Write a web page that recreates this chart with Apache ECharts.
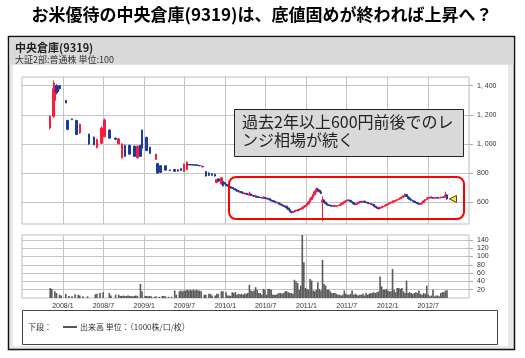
<!DOCTYPE html>
<html><head><meta charset="utf-8">
<script src="https://cdn.jsdelivr.net/npm/echarts@6/dist/echarts.min.js"></script>
<style>html,body{margin:0;padding:0;background:#fff}#c{width:525px;height:358px}</style>
</head><body><div id="c"></div>
<script>
// ---- DATA ----
const titleText = 'お米優待の中央倉庫(9319)は、底値固めが終われば上昇へ？';
const headerTitle = '中央倉庫(9319)';
const headerSub = '大証2部:普通株 単位:100';
const noteText = '過去2年以上600円前後でのレ\nンジ相場が続く';
const legendPrefix = '下段：';
const legendText = '出来高 単位：（1000株/口/枚）';

const dateTicks = ['2008-01-01','2008-07-01','2009-01-01','2009-07-01','2010-01-01','2010-07-01','2011-01-01','2011-07-01','2012-01-01','2012-07-01'];
const priceTicks = [600, 800, 1000, 1200, 1400];
const volumeTicks = [20, 40, 60, 80, 100, 120, 140];

// [date, open, close, low, high]
const candles2007_2009 = [
['2007-11-05',1110,1190,1100,1196],['2007-11-19',1190,1380,1180,1436],['2007-11-26',1300,1400,1270,1420],
['2007-12-03',1400,1355,1340,1410],['2007-12-10',1390,1360,1350,1400],['2007-12-17',1400,1380,1375,1402],
['2008-01-14',1300,1282,1280,1302],['2008-01-21',1162,1100,1095,1165],['2008-02-12',1172,1166,1164,1174],
['2008-03-03',1162,1065,1060,1165],['2008-03-17',1075,1135,1070,1140],['2008-04-28',1068,1000,995,1070],
['2008-05-19',1048,995,990,1050],['2008-06-02',975,1030,970,1035],['2008-06-23',1005,1110,1000,1120],
['2008-07-07',1050,1165,1045,1175],['2008-07-28',1095,1040,1035,1100],['2008-08-25',1040,1032,1028,1044],
['2008-09-08',1000,1035,998,1038],['2008-09-22',905,1000,900,1005],['2008-10-06',990,915,910,995],
['2008-10-27',990,930,925,995],['2008-11-17',985,915,910,988],['2008-12-01',905,985,900,990],
['2008-12-15',990,915,910,995],['2008-12-22',1095,970,965,1098],['2009-01-12',1045,955,950,1050],
['2009-01-26',978,935,932,980],['2009-02-23',895,930,890,932],['2009-03-02',865,800,795,868],
['2009-03-16',850,805,800,855],['2009-04-06',850,820,818,852],['2009-04-27',822,818,815,824],
['2009-05-18',825,812,810,826],['2009-06-01',822,815,810,825],['2009-06-15',830,818,815,832],
['2009-06-29',810,860,808,865],['2009-07-13',825,875,820,880],['2009-07-20',858,857,856,859],
['2009-07-27',858,856,855,859],['2009-08-03',857,856,855,858],['2009-08-10',857,855,854,858],
['2009-08-17',856,855,854,857],['2009-08-24',856,854,852,857],['2009-08-31',855,853,852,856],
['2009-09-07',852,850,848,853],['2009-09-21',842,848,840,850],['2009-10-05',810,780,776,812],
['2009-10-19',800,785,780,804],['2009-11-02',795,785,782,798],['2009-11-16',792,780,776,794],
['2009-11-23',735,755,730,758],['2009-11-30',760,745,740,762],['2009-12-14',725,768,720,772],
['2009-12-21',742,712,708,745],['2009-12-28',735,728,722,738]
];
const candles2010 = [
['2010-01-04',725,718,712,732],['2010-01-11',718,712,706,722],['2010-01-18',712,706,700,716],['2010-01-25',706,700,694,710],
['2010-02-01',700,695,690,704],['2010-02-08',692,690,684,698],['2010-02-15',690,684,678,694],['2010-02-22',684,678,672,688],
['2010-03-01',676,672,668,682],['2010-03-08',668,674,664,680],['2010-03-15',672,664,660,676],['2010-03-22',664,661,656,668],
['2010-03-29',658,662,654,668],['2010-04-05',660,655,650,664],['2010-04-12',655,653,648,660],['2010-04-19',648,658,645,672],
['2010-04-26',656,647,642,660],['2010-05-03',647,645,640,650],['2010-05-10',645,641,636,648],['2010-05-17',636,642,632,650],
['2010-05-24',640,636,630,644],['2010-05-31',636,633,628,640],['2010-06-07',633,632,628,636],['2010-06-14',632,630,626,634],
['2010-06-21',626,634,622,640],['2010-06-28',632,627,622,636],['2010-07-05',627,624,620,630],['2010-07-12',620,626,616,632],
['2010-07-19',624,616,612,628],['2010-07-26',616,612,606,620],['2010-08-02',612,607,602,614],['2010-08-09',607,602,598,610],
['2010-08-16',602,597,592,606],['2010-08-23',594,598,590,604],['2010-08-30',596,588,584,600],['2010-09-06',588,583,578,592],
['2010-09-13',583,578,574,586],['2010-09-20',578,572,568,582],['2010-09-27',568,574,564,578],['2010-10-04',572,560,556,576],
['2010-10-11',560,548,544,562],['2010-10-18',548,536,532,550],['2010-10-25',536,528,524,540],['2010-11-01',528,534,526,538],
['2010-11-08',534,540,530,546],['2010-11-15',540,543,536,548],['2010-11-22',546,542,538,550],['2010-11-29',542,550,540,554],
['2010-12-06',550,556,546,560],['2010-12-13',556,563,550,572],['2010-12-20',563,570,558,576],['2010-12-27',570,578,566,582]
];
const candles2011 = [
['2011-01-03',578,588,575,594],['2011-01-10',588,602,584,608],['2011-01-17',602,618,598,626],['2011-01-24',618,632,612,640],
['2011-01-31',632,650,628,656],['2011-02-07',650,672,646,680],['2011-02-14',672,690,666,700],['2011-02-21',690,682,676,698],
['2011-02-28',682,672,666,686],['2011-03-07',672,660,655,676],['2011-03-14',600,615,470,640],['2011-03-21',615,600,596,620],
['2011-03-28',600,590,585,604],['2011-04-04',590,582,578,594],['2011-04-11',582,578,574,586],['2011-04-18',578,575,570,582],
['2011-04-25',575,574,570,578],['2011-05-02',572,575,568,578],['2011-05-09',575,573,570,578],['2011-05-16',573,576,570,580],
['2011-05-23',576,577,572,580],['2011-05-30',577,580,574,584],['2011-06-06',580,588,576,592],['2011-06-13',588,596,584,600],
['2011-06-20',596,604,592,610],['2011-06-27',604,610,600,614],['2011-07-04',610,614,606,618],['2011-07-11',614,612,608,618],
['2011-07-18',612,605,600,616],['2011-07-25',605,598,594,608],['2011-08-01',598,588,584,600],['2011-08-08',588,585,580,592],
['2011-08-15',585,592,582,596],['2011-08-22',592,600,588,604],['2011-08-29',600,604,596,608],['2011-09-05',604,602,598,608],
['2011-09-12',602,606,598,610],['2011-09-19',606,600,596,610],['2011-09-26',600,598,594,604],['2011-10-03',598,594,590,602],
['2011-10-10',594,590,586,598],['2011-10-17',590,584,580,594],['2011-10-24',580,586,576,590],['2011-10-31',584,572,568,588],
['2011-11-07',572,566,562,576],['2011-11-14',566,560,556,570],['2011-11-21',560,555,550,564],['2011-11-28',555,562,552,570],
['2011-12-05',562,566,558,572],['2011-12-12',566,572,562,576],['2011-12-19',572,578,568,582],['2011-12-26',578,584,574,588]
];
const candles2012 = [
['2012-01-02',584,590,580,594],['2012-01-09',590,594,586,598],['2012-01-16',594,598,590,602],['2012-01-23',598,603,592,612],
['2012-01-30',603,608,598,612],['2012-02-06',608,612,604,616],['2012-02-13',612,618,608,622],['2012-02-20',618,624,614,628],
['2012-02-27',624,630,620,634],['2012-03-05',630,636,626,640],['2012-03-12',636,644,632,650],['2012-03-19',644,652,640,660],
['2012-03-26',652,640,636,656],['2012-04-02',640,628,624,644],['2012-04-09',628,620,616,632],['2012-04-16',620,612,608,624],
['2012-04-23',612,606,602,616],['2012-04-30',606,600,596,610],['2012-05-07',600,596,592,604],['2012-05-14',596,590,586,600],
['2012-05-21',590,586,582,594],['2012-05-28',586,590,582,594],['2012-06-04',590,598,586,602],['2012-06-11',598,608,594,612],
['2012-06-18',608,618,604,622],['2012-06-25',618,626,614,632],['2012-07-02',626,632,622,636],['2012-07-09',632,634,628,638],
['2012-07-16',634,630,626,638],['2012-07-23',630,628,624,634],['2012-07-30',628,630,624,634],['2012-08-06',630,632,626,636],
['2012-08-13',632,628,624,636],['2012-08-20',628,630,624,634],['2012-08-27',630,634,626,638],['2012-09-03',634,632,628,638],
['2012-09-10',632,636,628,640],['2012-09-17',636,650,632,672],['2012-09-24',650,622,618,654]
];

// [date, volume (1000 shares)]
const volume2007_2009 = [
['2007-11-05',24],['2007-11-12',22],['2007-11-26',16],['2007-12-03',12],['2007-12-17',8],['2007-12-24',6],
['2008-01-14',10],['2008-01-28',5],['2008-02-11',4],['2008-02-25',9],['2008-03-10',8],['2008-03-17',6],['2008-03-31',4],
['2008-04-21',4],['2008-05-26',9],['2008-06-02',10],['2008-06-16',12],['2008-06-30',14],['2008-07-28',12],['2008-08-04',6],
['2008-08-25',8],['2008-09-08',8],['2008-09-15',5],['2008-09-22',5],['2008-09-29',6],['2008-10-06',5],['2008-10-13',5],
['2008-10-20',6],['2008-10-27',5],['2008-11-03',5],['2008-11-10',4],['2008-11-17',5],['2008-11-24',6],['2008-12-01',5],
['2008-12-15',34],['2008-12-22',16],['2009-01-05',5],['2009-01-12',5],['2009-01-19',4],['2009-01-26',5],['2009-02-02',4],
['2009-02-16',3],['2009-02-23',4],['2009-03-09',3],['2009-03-23',5],['2009-03-30',5],['2009-04-06',4],['2009-04-20',3],
['2009-05-04',3],['2009-05-18',18],['2009-05-25',8],['2009-06-08',16],['2009-06-15',18],['2009-06-22',16],['2009-06-29',18],
['2009-07-06',18],['2009-07-13',20],['2009-07-20',18],['2009-07-27',20],['2009-08-03',18],['2009-08-10',20],['2009-08-17',18],
['2009-08-24',20],['2009-08-31',18],['2009-09-07',18],['2009-09-14',16],['2009-09-28',8],['2009-10-05',8],['2009-10-19',10],
['2009-10-26',10],['2009-11-02',6],['2009-11-16',6],['2009-11-23',10],['2009-11-30',10],['2009-12-14',16],['2009-12-21',16]
];
const volume2010 = [
['2010-01-04',14],['2010-01-11',6],['2010-01-18',6],['2010-01-25',5],['2010-02-01',14],['2010-02-08',12],['2010-02-15',14],
['2010-02-22',8],['2010-03-01',10],['2010-03-08',9],['2010-03-15',10],['2010-03-22',8],['2010-03-29',11],['2010-04-05',10],
['2010-04-12',12],['2010-04-19',32],['2010-04-26',18],['2010-05-03',16],['2010-05-10',18],['2010-05-17',26],['2010-05-24',20],
['2010-05-31',12],['2010-06-07',12],['2010-06-14',8],['2010-06-21',22],['2010-06-28',20],['2010-07-05',8],['2010-07-12',22],
['2010-07-19',22],['2010-07-26',20],['2010-08-02',8],['2010-08-09',8],['2010-08-16',7],['2010-08-23',10],['2010-08-30',12],
['2010-09-06',12],['2010-09-13',10],['2010-09-20',12],['2010-09-27',16],['2010-10-04',16],['2010-10-11',14],['2010-10-18',12],
['2010-10-25',12],['2010-11-01',10],['2010-11-08',44],['2010-11-15',40],['2010-11-22',36],['2010-11-29',20],['2010-12-06',30],
['2010-12-13',154],['2010-12-20',86],['2010-12-27',24]
];
const volume2011 = [
['2011-01-03',22],['2011-01-10',20],['2011-01-17',46],['2011-01-24',42],['2011-01-31',18],['2011-02-07',16],['2011-02-14',20],
['2011-02-21',38],['2011-02-28',22],['2011-03-07',18],['2011-03-14',92],['2011-03-21',34],['2011-03-28',30],['2011-04-04',20],
['2011-04-11',20],['2011-04-18',16],['2011-04-25',12],['2011-05-02',12],['2011-05-09',12],['2011-05-16',10],['2011-05-23',8],
['2011-05-30',8],['2011-06-06',6],['2011-06-13',8],['2011-06-20',18],['2011-06-27',10],['2011-07-04',8],['2011-07-11',8],
['2011-07-18',10],['2011-07-25',18],['2011-08-01',8],['2011-08-08',10],['2011-08-15',8],['2011-08-22',6],['2011-08-29',8],
['2011-09-05',8],['2011-09-12',10],['2011-09-19',6],['2011-09-26',12],['2011-10-03',8],['2011-10-10',10],['2011-10-17',12],
['2011-10-24',12],['2011-10-31',14],['2011-11-07',12],['2011-11-14',14],['2011-11-21',16],['2011-11-28',52],['2011-12-05',28],
['2011-12-12',20],['2011-12-19',20],['2011-12-26',22]
];
const volume2012 = [
['2012-01-02',18],['2012-01-09',16],['2012-01-16',16],['2012-01-23',70],['2012-01-30',20],['2012-02-06',14],['2012-02-13',24],
['2012-02-20',24],['2012-02-27',22],['2012-03-05',24],['2012-03-12',16],['2012-03-19',12],['2012-03-26',42],['2012-04-02',12],
['2012-04-09',14],['2012-04-16',12],['2012-04-23',10],['2012-04-30',12],['2012-05-07',14],['2012-05-14',12],['2012-05-21',18],
['2012-05-28',10],['2012-06-04',8],['2012-06-11',12],['2012-06-18',10],['2012-06-25',30],['2012-07-02',8],['2012-07-09',4],
['2012-07-16',6],['2012-07-23',20],['2012-07-30',4],['2012-08-06',6],['2012-08-13',6],['2012-08-20',4],['2012-08-27',12],
['2012-09-03',14],['2012-09-10',14],['2012-09-17',18],['2012-09-24',19]
];

// ---- CHART ----
const tp = s => { const p = s.split('-').map(Number); return Date.UTC(p[0], p[1] - 1, p[2]); };
const candles = [].concat(candles2007_2009, candles2010, candles2011, candles2012).map(c => [tp(c[0]), c[1], c[2], c[3], c[4]]);
const volumes = [].concat(volume2007_2009, volume2010, volume2011, volume2012).map(v => [tp(v[0]), v[1]]);
const lastCandle = candles[candles.length - 1];

const gridColor = '#c4c4c4';
const labelFont = 'Liberation Sans';
const cjk = '"Noto Sans CJK JP", "Noto Sans CJK SC", sans-serif';

function xAxisCfg(gi, showLabels) {
  return {
    type: 'value', gridIndex: gi, min: tp('2007-07-01'), max: tp('2013-01-01'),
    axisLine: {show: false},
    axisTick: {show: false, customValues: dateTicks.map(tp)},
    splitLine: {show: true, lineStyle: {color: gridColor, width: 1}},
    axisLabel: {
      show: showLabels, customValues: dateTicks.map(tp),
      formatter: v => { const d = new Date(v); return d.getUTCFullYear() + '/' + (d.getUTCMonth() + 1); },
      fontSize: 7, color: '#333', margin: 5, fontFamily: labelFont
    }
  };
}
function yAxisCfg(gi, min, max, ticks, fmt) {
  return {
    type: 'value', gridIndex: gi, position: 'right', min, max,
    axisLine: {show: false},
    axisTick: {show: true, customValues: ticks, length: 4, lineStyle: {color: '#aaa'}},
    splitLine: {show: true, lineStyle: {color: gridColor, width: 1}},
    axisLabel: {customValues: ticks, formatter: fmt, fontSize: 7, color: '#333', margin: 8, fontFamily: labelFont}
  };
}

const chart = echarts.init(document.getElementById('c'), null, {renderer: 'canvas'});
chart.setOption({
  animation: false,
  backgroundColor: '#fff',
  grid: [
    {left: 22, top: 77, width: 447, height: 147, show: true, borderColor: '#bdbdbd', borderWidth: 1, outerBoundsMode: 'none', z: 1},
    {left: 22, top: 235, width: 447, height: 63, show: true, borderColor: '#bdbdbd', borderWidth: 1, outerBoundsMode: 'none', z: 1}
  ],
  xAxis: [xAxisCfg(0, false), xAxisCfg(1, true)],
  yAxis: [
    yAxisCfg(0, 450, 1460, priceTicks, v => v >= 1000 ? Math.floor(v / 1000) + ', ' + String(v % 1000).padStart(3, '0') : String(v)),
    yAxisCfg(1, 0, 152, volumeTicks, v => String(v))
  ],
  series: [
    {
      type: 'candlestick', xAxisIndex: 0, yAxisIndex: 0, data: candles, barWidth: 2,
      itemStyle: {color: '#ff1a3c', color0: '#1e3a9c', borderColor: '#ff1a3c', borderColor0: '#1e3a9c', borderWidth: 1},
      markPoint: {
        symbol: 'triangle', symbolSize: [7, 7], symbolRotate: 90, symbolOffset: [6, 0],
        label: {show: false},
        itemStyle: {color: '#ffee00', borderColor: '#444', borderWidth: 1},
        data: [{coord: [lastCandle[0], lastCandle[2]]}]
      }
    },
    {
      type: 'bar', xAxisIndex: 1, yAxisIndex: 1, data: volumes, barWidth: 1.6,
      itemStyle: {color: '#5a5a5a'}
    }
  ],
  graphic: [
    {type: 'rect', z: -20, shape: {x: 8.5, y: 36.5, width: 506, height: 313}, style: {fill: '#e8e8e8', stroke: '#111', lineWidth: 1.5}},
    {type: 'rect', z: -19, shape: {x: 9.5, y: 37.5, width: 504, height: 27}, style: {fill: '#dadada'}},
    {type: 'rect', z: -18, shape: {x: 13, y: 65, width: 495, height: 281}, style: {fill: '#ffffff'}},
    {type: 'text', z: 10, x: 262, y: 15, style: {text: titleText, font: 'bold 17px ' + cjk, fill: '#000', align: 'center', verticalAlign: 'middle'}},
    {type: 'text', z: 10, x: 15, y: 48, style: {text: headerTitle, font: 'bold 11px ' + cjk, fill: '#222', align: 'left', verticalAlign: 'middle'}},
    {type: 'text', z: 10, x: 15, y: 59.5, style: {text: headerSub, font: '9px ' + cjk, fill: '#333', align: 'left', verticalAlign: 'middle'}},
    {type: 'rect', z: 10, shape: {x: 22.5, y: 310.5, width: 475, height: 34}, style: {fill: '#fff', stroke: '#444', lineWidth: 1}},
    {type: 'text', z: 11, x: 28, y: 327, style: {text: legendPrefix, font: '8px ' + cjk, fill: '#333', align: 'left', verticalAlign: 'middle'}},
    {type: 'line', z: 11, shape: {x1: 63, y1: 327, x2: 77, y2: 327}, style: {stroke: '#555', lineWidth: 2}},
    {type: 'text', z: 11, x: 80, y: 327, style: {text: legendText, font: '8px ' + cjk, fill: '#333', align: 'left', verticalAlign: 'middle'}},
    {type: 'rect', z: 100, shape: {x: 234.5, y: 109.5, width: 229, height: 47}, style: {fill: '#d9d9d9', stroke: '#222', lineWidth: 1}},
    {type: 'text', z: 101, x: 242, y: 112.5, style: {text: noteText, font: '16px ' + cjk, lineHeight: 18.5, fill: '#222', align: 'left', verticalAlign: 'top'}},
    {type: 'rect', z: 100, shape: {x: 229, y: 177, width: 235, height: 42, r: 7}, style: {fill: 'none', stroke: '#ff0000', lineWidth: 2}}
  ]
});
</script></body></html>
